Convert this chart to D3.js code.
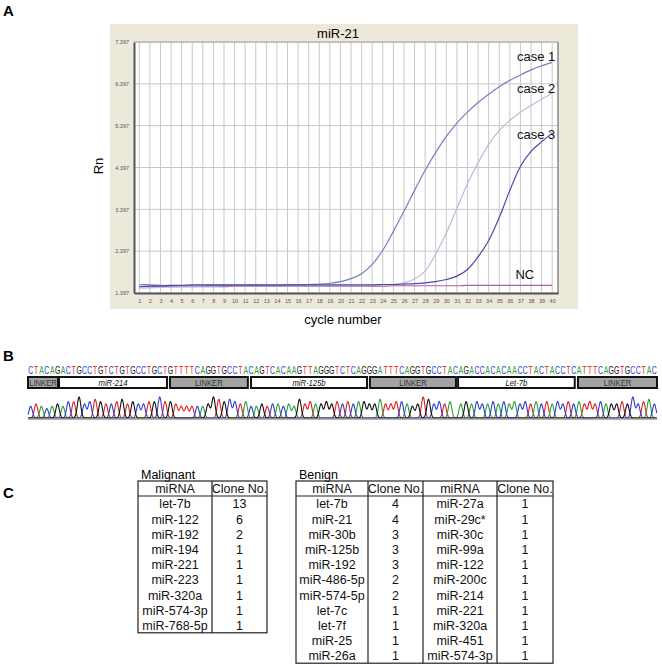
<!DOCTYPE html>
<html>
<head>
<meta charset="utf-8">
<script src="https://cdn.jsdelivr.net/npm/d3@7"></script>
<style>
  body { margin: 0; background: #fff; }
  svg { display: block; font-family: "Liberation Sans", Arial, sans-serif; }
</style>
</head>
<body>
<svg width="662" height="667"></svg>
<script>
// ---- panel A data: amplification curves, cycles 1..40 ----
const cycles = d3.range(1, 41);
const case1 = [1.60,1.59,1.58,1.57,1.57,1.57,1.57,1.58,1.58,1.58,1.58,1.58,1.58,1.58,1.59,1.59,1.60,1.61,1.63,1.67,
               1.74,1.86,2.08,2.42,2.87,3.35,3.85,4.33,4.76,5.14,5.46,5.72,5.95,6.15,6.33,6.48,6.61,6.73,6.83,6.91];
const case2 = [1.51,1.52,1.53,1.54,1.55,1.55,1.56,1.56,1.57,1.57,1.57,1.57,1.57,1.57,1.57,1.57,1.57,1.57,1.57,1.57,
               1.57,1.57,1.58,1.58,1.60,1.64,1.73,1.92,2.33,2.83,3.42,4.01,4.51,4.95,5.28,5.52,5.72,5.88,6.03,6.17];
const case3 = [1.55,1.56,1.57,1.58,1.58,1.59,1.59,1.59,1.59,1.59,1.59,1.59,1.59,1.59,1.59,1.59,1.59,1.59,1.59,1.59,
               1.59,1.59,1.59,1.60,1.60,1.61,1.62,1.64,1.67,1.72,1.80,1.96,2.26,2.65,3.20,3.85,4.42,4.78,5.01,5.22];
const ncRun = [1.55,1.55,1.55,1.55,1.55,1.55,1.55,1.55,1.55,1.56,1.56,1.56,1.56,1.56,1.56,1.56,1.56,1.56,1.56,1.56,
               1.56,1.56,1.56,1.56,1.57,1.57,1.57,1.57,1.57,1.57,1.57,1.58,1.58,1.58,1.58,1.58,1.58,1.58,1.58,1.58];
const seriesNames = ["case 1", "case 2", "case 3", "NC"];
const seriesColors = ["#7c7cc2", "#b9b9de", "#4b4ba3", "#b15ea9"];
const yTicks = [1.397, 2.397, 3.397, 4.397, 5.397, 6.397, 7.397];

// ---- panel B data ----
const sequence = "CTACAGACTGCCTGTCTGTGCCTGCTGTTTTCAGGTGCCTACAGTCACAAGTTAGGGTCTCAGGGATTTCAGGTGCCTACAGACCACACAACCTACTACCTCATTTCAGGTGCCTAC";
const peakHeights = "56545657796787667867667797765555569878767556566565867667676767766866776569867670676766767676767676767676767666769678676";
const segNames = ["LINKER", "miR-214", "LINKER", "miR-125b", "LINKER", "Let-7b", "LINKER"];
const segStart = [-0.5, 5.27, 25.9, 40.98, 63.1, 79.5, 101.8];
const segEnd   = [5.08, 25.35, 40.4, 62.56, 79.1, 101.2, 116.5];
const baseColors = { A: "#2e9e3a", C: "#2b3fd0", G: "#111111", T: "#e02020" };

// ---- panel C data ----
const malignantMiRNA = ["let-7b","miR-122","miR-192","miR-194","miR-221","miR-223","miR-320a","miR-574-3p","miR-768-5p"];
const malignantClones = [13, 6, 2, 1, 1, 1, 1, 1, 1];
const benignMiRNA1 = ["let-7b","miR-21","miR-30b","miR-125b","miR-192","miR-486-5p","miR-574-5p","let-7c","let-7f","miR-25","miR-26a"];
const benignClones1 = [4, 4, 3, 3, 3, 2, 2, 1, 1, 1, 1];
const benignMiRNA2 = ["miR-27a","miR-29c*","miR-30c","miR-99a","miR-122","miR-200c","miR-214","miR-221","miR-320a","miR-451","miR-574-3p"];
const benignClones2 = [1, 1, 1, 1, 1, 1, 1, 1, 1, 1, 1];

const svg = d3.select("svg");

// panel letters
[["A", 3, 16], ["B", 3, 361], ["C", 3, 498]].forEach(([t, x, y]) => {
  svg.append("text").attr("x", x).attr("y", y).attr("font-size", 15).attr("font-weight", "bold").text(t);
});

// ================= panel A =================
svg.append("rect").attr("x", 110).attr("y", 24).attr("width", 468).attr("height", 285).attr("fill", "#ece9da");

const x = d3.scaleLinear().domain([0.5, 40.55]).range([134, 558]);
const y = d3.scaleLinear().domain([1.397, 7.397]).range([293, 42]);

const gA = svg.append("g");
gA.append("rect").attr("x", 134).attr("y", 42).attr("width", 424).attr("height", 251).attr("fill", "#fff");

// grid
gA.selectAll(".vg").data(cycles).enter().append("line")
  .attr("x1", d => x(d)).attr("x2", d => x(d)).attr("y1", 42).attr("y2", 293)
  .attr("stroke", "#c8c8c8").attr("stroke-width", 1);
gA.selectAll(".hg").data(yTicks).enter().append("line")
  .attr("x1", 134).attr("x2", 558).attr("y1", d => y(d)).attr("y2", d => y(d))
  .attr("stroke", "#c8c8c8").attr("stroke-width", 1);

// frame
gA.append("line").attr("x1", 134).attr("x2", 558).attr("y1", 42).attr("y2", 42).attr("stroke", "#aaa");
gA.append("line").attr("x1", 558).attr("x2", 558).attr("y1", 42).attr("y2", 294).attr("stroke", "#888").attr("stroke-width", 1.5);

// axes
const xAxis = gA.append("g").attr("transform", "translate(0,293)")
  .call(d3.axisBottom(x).tickValues(cycles).tickSize(0).tickPadding(6).tickFormat(d3.format("d")));
const yAxis = gA.append("g").attr("transform", "translate(134,0)")
  .call(d3.axisLeft(y).tickValues(yTicks).tickSize(0).tickPadding(5).tickFormat(d3.format(".3f")));
[xAxis, yAxis].forEach(a => {
  a.select(".domain").attr("stroke", "#555").attr("stroke-width", 2);
  a.selectAll("text").attr("font-size", 5.5).attr("fill", "#555").attr("font-family", "Liberation Sans, Arial");
});

// curves
const allSeries = [case1, case2, case3, ncRun];
const line = d3.line().x((d, i) => x(cycles[i])).y(d => y(d)).curve(d3.curveMonotoneX);
[3, 1, 0, 2].forEach(k => {
  gA.append("path").datum(allSeries[k]).attr("d", line)
    .attr("fill", "none").attr("stroke", seriesColors[k]).attr("stroke-width", 1.2);
});

// curve labels
const labelY = [6.95, 6.18, 5.08, 1.73];
const labelX = [40.3, 40.3, 40.3, 38.3];
seriesNames.forEach((n, k) => {
  gA.append("text").attr("x", x(labelX[k])).attr("y", y(labelY[k]))
    .attr("text-anchor", "end").attr("font-size", 13).attr("fill", "#111").text(n);
});

gA.append("text").attr("x", 338).attr("y", 38).attr("text-anchor", "middle").attr("font-size", 13).text("miR-21");
gA.append("text").attr("transform", "translate(103,166) rotate(-90)").attr("text-anchor", "middle")
  .attr("font-size", 13).text("Rn");
gA.append("text").attr("x", 343).attr("y", 324).attr("text-anchor", "middle").attr("font-size", 13).text("cycle number");

// ================= panel B =================
const bx = d3.scaleLinear().domain([-0.5, sequence.length - 0.5]).range([28, 657]);
const gB = svg.append("g");

gB.selectAll(".base").data(sequence.split("")).enter().append("text")
  .attr("transform", (d, i) => `translate(${bx(i)},373.5) scale(0.66,1)`)
  .attr("text-anchor", "middle").attr("font-size", 10.5)
  .attr("fill", d => baseColors[d]).text(d => d);

segNames.forEach((n, k) => {
  const linker = n === "LINKER";
  gB.append("rect").attr("x", bx(segStart[k])).attr("y", 377)
    .attr("width", bx(segEnd[k]) - bx(segStart[k])).attr("height", 11)
    .attr("fill", linker ? "#a3a3a3" : "#fff").attr("stroke", "#111").attr("stroke-width", 2);
  gB.append("text")
    .attr("transform", `translate(${(bx(segStart[k]) + bx(segEnd[k])) / 2},386) scale(0.85,1)`)
    .attr("text-anchor", "middle").attr("font-size", 9)
    .attr("font-style", linker ? "normal" : "italic")
    .attr("fill", linker ? "#333" : "#111").text(n);
});

// chromatogram traces
const hy = d3.scaleLinear().domain([0, 9]).range([418, 397]);
const sigma = 0.32;
const samples = d3.range(-0.5, sequence.length - 0.5, 0.08);
["T", "A", "C", "G"].forEach(b => {
  const pts = samples.map(u => {
    let v = 0;
    for (let i = Math.max(0, Math.floor(u) - 3); i < Math.min(sequence.length, Math.floor(u) + 4); i++) {
      if (sequence[i] !== b) continue;
      const h = +peakHeights[i];
      v += h * Math.exp(-((u - i) * (u - i)) / (2 * sigma * sigma));
    }
    return [bx(u), hy(v)];
  });
  gB.append("path").attr("d", d3.line()(pts)).attr("fill", "none")
    .attr("stroke", baseColors[b]).attr("stroke-width", 1.1);
});
gB.append("line").attr("x1", 28).attr("x2", 657).attr("y1", 419).attr("y2", 419)
  .attr("stroke", "#999").attr("stroke-width", 1.5);

// ================= panel C =================
function drawTable(x0, colEdges, headers, columns, title) {
  const g = svg.append("g");
  const nRows = columns[0].length;
  const top = 481, headH = 15, rowH = 15.2;
  const bottom = top + headH + nRows * rowH;
  g.append("text").attr("x", x0).attr("y", 478.5).attr("font-size", 12.5).text(title);
  g.append("rect").attr("x", colEdges[0]).attr("y", top)
    .attr("width", colEdges[colEdges.length - 1] - colEdges[0]).attr("height", bottom - top)
    .attr("fill", "none").attr("stroke", "#222").attr("stroke-width", 1.2);
  g.append("line").attr("x1", colEdges[0]).attr("x2", colEdges[colEdges.length - 1])
    .attr("y1", top + headH).attr("y2", top + headH).attr("stroke", "#222").attr("stroke-width", 1.2);
  colEdges.slice(1, -1).forEach(cx => {
    g.append("line").attr("x1", cx).attr("x2", cx).attr("y1", top).attr("y2", bottom)
      .attr("stroke", "#222").attr("stroke-width", 1.2);
  });
  headers.forEach((h, c) => {
    const cx = (colEdges[c] + colEdges[c + 1]) / 2;
    g.append("text").attr("x", cx).attr("y", top + 12.3).attr("text-anchor", "middle")
      .attr("font-size", 12.5).attr("fill", "#111").text(h);
    g.selectAll(null).data(columns[c]).enter().append("text")
      .attr("x", cx).attr("y", (d, i) => top + headH + i * rowH + 12.3)
      .attr("text-anchor", "middle").attr("font-size", 12.5).attr("fill", "#111").text(d => d);
  });
}

drawTable(141, [138, 212, 267], ["miRNA", "Clone No."], [malignantMiRNA, malignantClones], "Malignant");
drawTable(299, [296, 368, 423, 497, 553], ["miRNA", "Clone No.", "miRNA", "Clone No."],
  [benignMiRNA1, benignClones1, benignMiRNA2, benignClones2], "Benign");
</script>
</body>
</html>
